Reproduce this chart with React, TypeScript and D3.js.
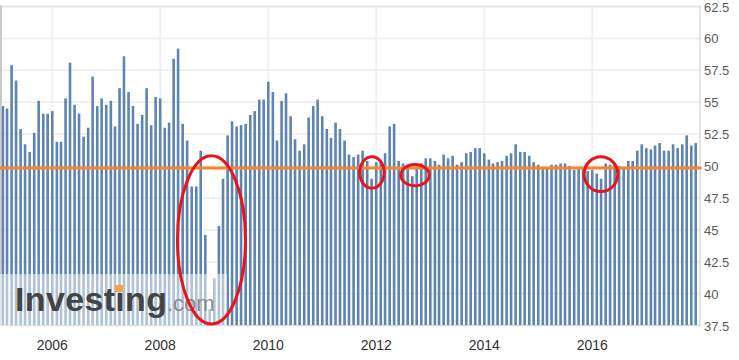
import React from 'react';
import * as d3 from 'd3';

// China NBS manufacturing PMI, monthly values
const pmi2005 = [54.7, 54.5, 57.9, 56.7, 52.9, 51.7, 51.1, 52.6, 55.1, 54.1, 54.1, 54.3];
const pmi2006 = [51.9, 51.9, 55.3, 58.1, 54.8, 54.1, 52.3, 53.0, 57.0, 54.7, 55.3, 54.8];
const pmi2007 = [55.1, 53.1, 56.1, 58.6, 55.8, 54.7, 53.3, 54.0, 56.1, 53.2, 55.4, 55.3];
const pmi2008 = [53.0, 53.4, 58.4, 59.2, 53.3, 52.0, 48.4, 48.4, 51.2, 44.6, 38.8, 41.2];
const pmi2009 = [45.3, 49.0, 52.4, 53.5, 53.1, 53.2, 53.3, 54.0, 54.3, 55.2, 55.2, 56.6];
const pmi2010 = [55.8, 52.0, 55.1, 55.7, 53.9, 52.1, 51.2, 51.7, 53.8, 54.7, 55.2, 53.9];
const pmi2011 = [52.9, 52.2, 53.4, 52.9, 52.0, 50.9, 50.7, 50.9, 51.2, 50.4, 49.0, 50.3];
const pmi2012 = [50.5, 51.0, 53.1, 53.3, 50.4, 50.2, 50.1, 49.2, 49.8, 50.2, 50.6, 50.6];
const pmi2013 = [50.4, 50.1, 50.9, 50.6, 50.8, 50.1, 50.3, 51.0, 51.1, 51.4, 51.4, 51.0];
const pmi2014 = [50.5, 50.2, 50.3, 50.4, 50.8, 51.0, 51.7, 51.1, 51.1, 50.8, 50.3, 50.1];
const pmi2015 = [49.8, 49.9, 50.1, 50.1, 50.2, 50.2, 50.0, 49.7, 49.8, 49.8, 49.6, 49.7];
const pmi2016 = [49.4, 49.0, 50.2, 50.1, 50.1, 50.0, 49.9, 50.4, 50.4, 51.2, 51.7, 51.4];
const pmi2017 = [51.3, 51.6, 51.8, 51.2, 51.2, 51.7, 51.4, 51.7, 52.4, 51.6, 51.8];

const firstYear = 2005;
const yTicks = [37.5, 40, 42.5, 45, 47.5, 50, 52.5, 55, 57.5, 60, 62.5];
const xTickYears = [2006, 2008, 2010, 2012, 2014, 2016];
const referenceLevel = 49.85;

// hand-drawn red ellipse annotations, in data units (decimal year, value)
const annotations = [
  { from: 2008.319, to: 2009.578, lo: 37.62, hi: 50.8 },
  { from: 2011.694, to: 2012.146, lo: 48.26, hi: 50.72 },
  { from: 2012.454, to: 2012.98, lo: 48.45, hi: 50.12 },
  { from: 2015.85, to: 2016.472, lo: 48.0, hi: 50.72 },
];

const allValues = [
  ...pmi2005, ...pmi2006, ...pmi2007, ...pmi2008, ...pmi2009, ...pmi2010, ...pmi2011,
  ...pmi2012, ...pmi2013, ...pmi2014, ...pmi2015, ...pmi2016, ...pmi2017,
];
// each bar is placed at the start of the following month
const data = allValues.map((v, i) => ({ date: new Date(firstYear, i + 1, 1), value: v }));

const decDate = (y: number) => {
  const yr = Math.floor(y);
  const a = new Date(yr, 0, 1).getTime();
  const b = new Date(yr + 1, 0, 1).getTime();
  return new Date(a + (y - yr) * (b - a));
};

const W = 739;
const H = 360;
const plotLeft = 1;
const plotRight = 700;
const plotTop = 6.5;
const plotBottom = 325.5;

const FONT = '"Liberation Sans", Arial, Helvetica, sans-serif';

export default function App() {
  const x = d3
    .scaleTime()
    .domain([new Date(2005, 0, 1), new Date(2018, 0, 1)])
    .range([-1.7, 700.3]);
  const y = d3.scaleLinear().domain([37.5, 62.5]).range([plotBottom, plotTop]);
  const barW = 2.6;

  return (
    <svg
      width={W}
      height={H}
      style={{ position: 'absolute', left: 0, top: 0, background: '#fff' }}
      fontFamily={FONT}
    >
      <defs>
        <clipPath id="plot">
          <rect x={plotLeft} y={0} width={plotRight - plotLeft} height={plotBottom} />
        </clipPath>
      </defs>
      {/* horizontal gridlines */}
      {yTicks.map((t) => (
        <line
          key={'h' + t}
          x1={plotLeft}
          x2={plotRight}
          y1={y(t)}
          y2={y(t)}
          stroke={t === 62.5 ? '#e3e3e3' : '#ececec'}
          strokeWidth={t === 62.5 ? 2 : 1.5}
        />
      ))}
      {/* vertical gridlines */}
      {xTickYears.map((yr) => (
        <line
          key={'v' + yr}
          x1={x(new Date(yr, 0, 1))}
          x2={x(new Date(yr, 0, 1))}
          y1={plotTop}
          y2={plotBottom}
          stroke="#eeeeee"
          strokeWidth={1.5}
        />
      ))}
      {/* bars */}
      <g clipPath="url(#plot)">
        {data.map((d, i) => (
          <rect
            key={i}
            x={x(d.date) - barW / 2}
            y={y(d.value)}
            width={barW}
            height={plotBottom - y(d.value)}
            fill="#5e84b1"
          />
        ))}
      </g>
      {/* axes lines */}
      <line x1={plotLeft} x2={plotLeft} y1={plotTop - 1} y2={plotBottom} stroke="#b8b8b8" strokeWidth={1.5} />
      <line x1={plotRight} x2={plotRight} y1={plotTop - 1} y2={plotBottom} stroke="#c8c8c8" strokeWidth={1} />
      <line x1={plotLeft} x2={plotRight} y1={plotBottom} y2={plotBottom} stroke="#ccd6e2" strokeWidth={1} />
      {/* reference line */}
      <line
        x1={0}
        x2={plotRight + 1.5}
        y1={y(referenceLevel)}
        y2={y(referenceLevel)}
        stroke="#f7862a"
        strokeWidth={3}
      />
      {/* watermark */}
      <rect x={0} y={274} width={227} height={plotBottom - 274} fill="#ffffff" opacity={0.5} />
      <text
        x={15}
        y={311}
        fontSize={34}
        fontWeight="bold"
        fill="#444444"
        textLength={152}
        lengthAdjust="spacing"
      >
        Investıng
      </text>
      <rect x={115} y={285} width={8} height={7} fill="#f3a73a" />
      <text x={167} y={311} fontSize={22} fill="#8c8c8c">
        .com
      </text>
      {/* red annotations */}
      {annotations.map((a, i) => {
        const x0 = x(decDate(a.from));
        const x1 = x(decDate(a.to));
        const y0 = y(a.hi);
        const y1 = y(a.lo);
        return (
          <ellipse
            key={'e' + i}
            cx={(x0 + x1) / 2}
            cy={(y0 + y1) / 2}
            rx={(x1 - x0) / 2}
            ry={(y1 - y0) / 2}
            fill="none"
            stroke="#e8141c"
            strokeWidth={3}
          />
        );
      })}
      {/* y labels */}
      {yTicks.map((t) => (
        <text key={'yl' + t} x={704} y={y(t) + 5} fontSize={13} fill="#5a5a5a">
          {t}
        </text>
      ))}
      {/* x labels */}
      {xTickYears.map((yr) => (
        <text
          key={'xl' + yr}
          x={x(new Date(yr, 0, 1))}
          y={350}
          fontSize={14}
          fill="#333"
          textAnchor="middle"
        >
          {yr}
        </text>
      ))}
    </svg>
  );
}
